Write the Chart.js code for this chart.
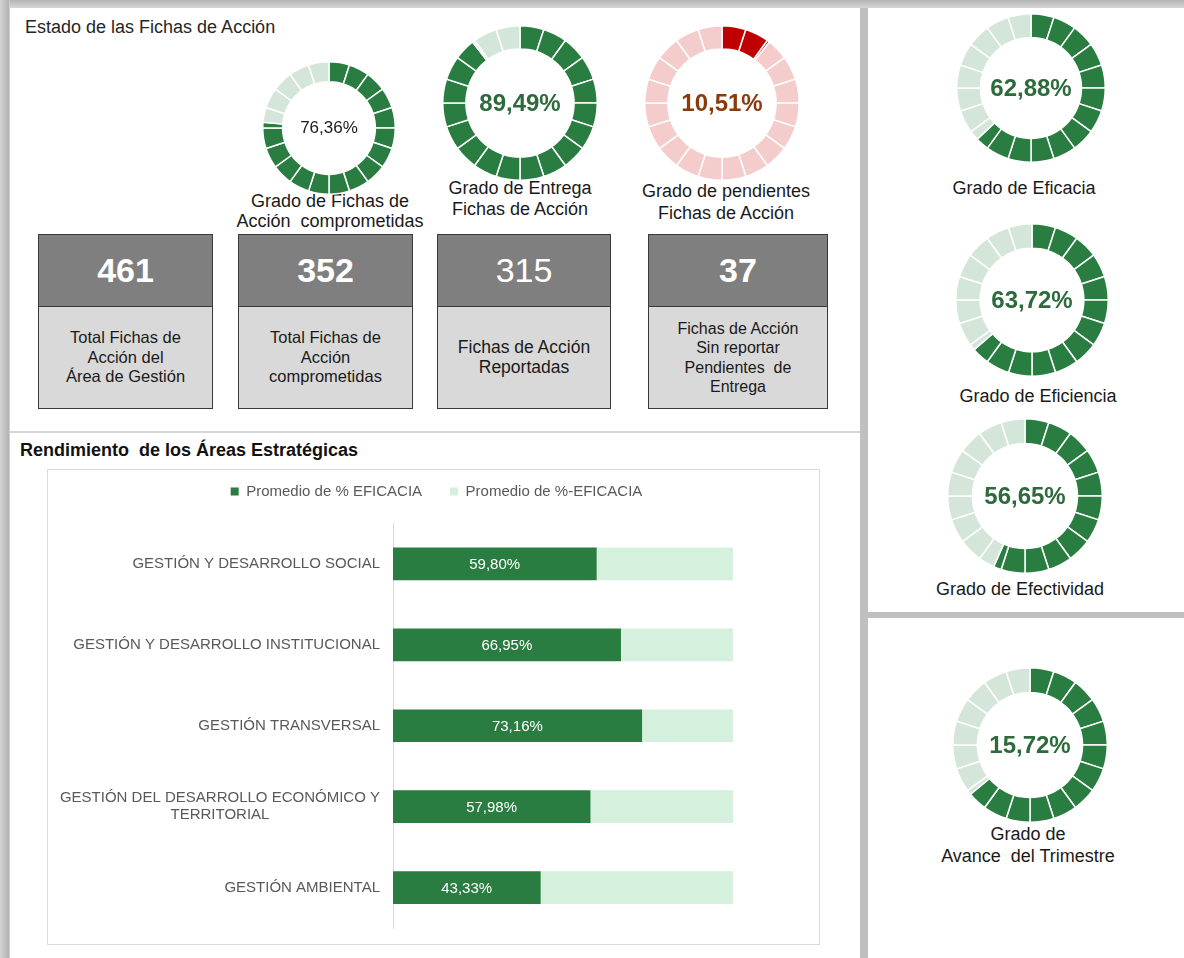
<!DOCTYPE html>
<html lang="es">
<head>
<meta charset="UTF-8">
<title>Estado de las Fichas de Acción</title>
<script src="https://cdn.jsdelivr.net/npm/chart.js"></script>
<style>
  body { margin: 0; width: 1184px; height: 958px; position: relative; overflow: hidden; background: #fff; font-family: 'Liberation Sans', Arial, sans-serif; color: #1a1a1a; }
  .abs { position: absolute; }
  .franja-sup { left: 0; top: 0; width: 1184px; height: 8px; background: linear-gradient(#b4b4b4, #d6d6d6); }
  .franja-izq { left: 0; top: 0; width: 10px; height: 958px; background: linear-gradient(90deg, #d4d4d4, #b2b2b2 85%, #e0e0e0); }
  .div-v { left: 860px; top: 8px; width: 8px; height: 950px; background: #c0c0c0; }
  .div-h { left: 860px; top: 612px; width: 324px; height: 6px; background: #c0c0c0; }
  .linea { left: 10px; top: 431px; width: 850px; height: 2px; background: #d6d6d6; }
  .titulo { left: 25px; top: 17px; font-size: 18px; color: #262626; }
  .titulo2 { left: 20px; top: 440px; font-size: 18px; font-weight: bold; color: #111; white-space: pre; }
  .kpi { position: absolute; top: 234px; height: 175px; border: 1.5px solid #3a3a3a; box-sizing: border-box; background: #d9d9d9; }
  .kpi .num { height: 71px; background: #7f7f7f; color: #fff; font-size: 34px; font-weight: bold; display: flex; align-items: center; justify-content: center; border-bottom: 1.5px solid #3a3a3a; }
  .kpi .txt { height: 101px; display: flex; align-items: center; justify-content: center; text-align: center; font-size: 16.5px; line-height: 19.5px; white-space: pre; }
  .centro { position: absolute; transform: translate(-50%, -50%); white-space: nowrap; }
  .cap { position: absolute; width: 280px; text-align: center; font-size: 18px; line-height: 21px; white-space: pre; color: #1a1a1a; }
  .caja { left: 47px; top: 469px; width: 773px; height: 476px; border: 1px solid #d9d9d9; box-sizing: border-box; }
</style>
</head>
<body>
<div class="abs franja-sup"></div>
<div class="abs franja-izq"></div>
<div class="abs div-v"></div>
<div class="abs div-h"></div>
<div class="abs linea"></div>

<div class="abs titulo">Estado de las Fichas de Acción</div>
<div class="abs titulo2">Rendimiento  de los Áreas Estratégicas</div>

<div id="kpis"></div>

<div class="cap" style="left:190px;top:191px;line-height:20px;">Grado de Fichas de
Acción  comprometidas</div>
<div class="cap" style="left:380px;top:178px;">Grado de Entrega
Fichas de Acción</div>
<div class="cap" style="left:586px;top:180px;line-height:22px;">Grado de pendientes
Fichas de Acción</div>
<div class="cap" style="left:884px;top:178px;">Grado de Eficacia</div>
<div class="cap" style="left:898px;top:386px;">Grado de Eficiencia</div>
<div class="cap" style="left:880px;top:579px;">Grado de Efectividad</div>
<div class="cap" style="left:888px;top:823px;line-height:22px;">Grado de
Avance  del Trimestre</div>

<div id="anillos"></div>

<div class="abs caja"></div>
<canvas id="barras" class="abs" width="771" height="488" style="left:48px;top:456px;"></canvas>

<script>
  // datos
  const totales = [461, 352, 315, 37];
  const totalesTexto = ['Total Fichas de\nAcción del\nÁrea de Gestión', 'Total Fichas de\nAcción\ncomprometidas', 'Fichas de Acción\nReportadas', 'Fichas de Acción\nSin reportar\nPendientes  de\nEntrega'];
  const porcentajes = [76.36, 89.49, 10.51, 62.88, 63.72, 56.65, 15.72];
  const relleno = [76.36, 89.49, 10.51, 62.88, 63.72, 56.65, 64]; // parte coloreada del anillo tal como se ve
  const areas = [['GESTIÓN Y DESARROLLO SOCIAL'], ['GESTIÓN Y DESARROLLO INSTITUCIONAL'], ['GESTIÓN TRANSVERSAL'], ['GESTIÓN DEL DESARROLLO ECONÓMICO Y', 'TERRITORIAL'], ['GESTIÓN AMBIENTAL']];
  const eficacia = [59.80, 66.95, 73.16, 57.98, 43.33];
  const restante = [40.20, 33.05, 26.84, 42.02, 56.67];

  const FUENTE = "'Liberation Sans', Arial, sans-serif";
  const VERDE = '#2a7d40', VERDE_CLARO = '#d4e6d9';
  const fmt = v => v.toFixed(2).replace('.', ',') + '%';

  // cajas de totales
  const cajas = [{ x: 38, w: 175 }, { x: 238, w: 175 }, { x: 437, w: 174 }, { x: 648, w: 180 }];
  let html = '';
  totales.forEach((t, i) => {
    const peso = i === 2 ? 'normal' : 'bold';
    const fs = i === 2 ? 17.5 : (i === 3 ? 16 : 16.5);
    html += '<div class="kpi" style="left:' + cajas[i].x + 'px;width:' + cajas[i].w + 'px;">' +
      '<div class="num" style="font-weight:' + peso + '">' + t + '</div>' +
      '<div class="txt" style="font-size:' + fs + 'px">' + totalesTexto[i] + '</div></div>';
  });
  document.getElementById('kpis').innerHTML = html;

  // anillos segmentados (20 tramos de 5%)
  const anillos = [
    { cx: 329, cy: 128, r: 66, corte: '70%', on: VERDE, off: VERDE_CLARO, fs: 17, peso: 'normal', color: '#1a1a1a' },
    { cx: 520, cy: 103, r: 77, corte: '70%', on: VERDE, off: VERDE_CLARO, fs: 24, peso: 'bold', color: '#2d6a3c' },
    { cx: 722, cy: 103, r: 77, corte: '70%', on: '#c00000', off: '#f4cccc', fs: 24, peso: 'bold', color: '#8b3a0c' },
    { cx: 1031, cy: 88, r: 74, corte: '68%', on: VERDE, off: VERDE_CLARO, fs: 24, peso: 'bold', color: '#2d6a3c' },
    { cx: 1032, cy: 300, r: 76, corte: '68%', on: VERDE, off: VERDE_CLARO, fs: 24, peso: 'bold', color: '#2d6a3c' },
    { cx: 1025, cy: 496, r: 77, corte: '68%', on: VERDE, off: VERDE_CLARO, fs: 24, peso: 'bold', color: '#2d6a3c' },
    { cx: 1030, cy: 745, r: 77, corte: '68%', on: VERDE, off: VERDE_CLARO, fs: 24, peso: 'bold', color: '#2d6a3c' }
  ];

  function tramos(valor, on, off) {
    const d = [], c = [];
    for (let i = 0; i < 20; i++) {
      const ini = i * 5, fin = ini + 5;
      if (valor >= fin) { d.push(5); c.push(on); }
      else if (valor <= ini) { d.push(5); c.push(off); }
      else { d.push(valor - ini, fin - valor); c.push(on, off); }
    }
    return { d, c };
  }

  const cont = document.getElementById('anillos');
  anillos.forEach((a, i) => {
    const lado = a.r * 2 + 2;
    const cv = document.createElement('canvas');
    cv.width = lado; cv.height = lado;
    cv.className = 'abs';
    cv.style.left = (a.cx - a.r - 1) + 'px';
    cv.style.top = (a.cy - a.r - 1) + 'px';
    cont.appendChild(cv);
    const t = document.createElement('div');
    t.className = 'centro';
    t.style.left = a.cx + 'px'; t.style.top = a.cy + 'px';
    t.style.fontSize = a.fs + 'px'; t.style.fontWeight = a.peso; t.style.color = a.color;
    t.textContent = fmt(porcentajes[i]);
    cont.appendChild(t);
    const s = tramos(relleno[i], a.on, a.off);
    new Chart(cv, {
      type: 'doughnut',
      data: { datasets: [{ data: s.d, backgroundColor: s.c, borderColor: '#fff', borderWidth: 1.5 }] },
      options: {
        responsive: false, animation: false, events: [], cutout: a.corte,
        plugins: { legend: { display: false }, tooltip: { enabled: false } }
      }
    });
  });

  // barras
  const margenLeyenda = {
    id: 'margenLeyenda',
    afterInit(chart) {
      if (!chart.legend) return;
      const fit = chart.legend.fit;
      chart.legend.fit = function () { fit.call(this); this.height += 14.5; };
    }
  };
  const etiquetasEje = {
    id: 'etiquetasEje',
    afterDraw(chart) {
      const y = chart.scales.y, ctx = chart.ctx;
      ctx.save();
      ctx.font = '15px ' + FUENTE;
      ctx.fillStyle = '#595959';
      ctx.textAlign = 'center';
      ctx.textBaseline = 'middle';
      areas.forEach((lineas, i) => {
        const w = Math.max(...lineas.map(l => ctx.measureText(l).width));
        const cx = y.right - 13 - w / 2;
        const cy = y.getPixelForValue(i);
        lineas.forEach((l, k) => ctx.fillText(l, cx, cy + (k - (lineas.length - 1) / 2) * 17));
      });
      ctx.restore();
    }
  };
  const etiquetasValor = {
    id: 'etiquetasValor',
    afterDatasetsDraw(chart) {
      const ctx = chart.ctx;
      ctx.save();
      ctx.font = '15px ' + FUENTE;
      ctx.fillStyle = '#ffffff';
      ctx.textAlign = 'center';
      ctx.textBaseline = 'middle';
      chart.getDatasetMeta(0).data.forEach((bar, i) => {
        ctx.fillText(fmt(eficacia[i]), (bar.x + bar.base) / 2, bar.y + 1);
      });
      ctx.restore();
    }
  };

  new Chart(document.getElementById('barras'), {
    type: 'bar',
    data: {
      labels: areas.map(a => a.join(' ')),
      datasets: [
        { label: 'Promedio de % EFICACIA', data: eficacia, backgroundColor: VERDE, borderWidth: 0, barThickness: 32 },
        { label: 'Promedio de %-EFICACIA', data: restante, backgroundColor: '#d5f0dc', borderWidth: 0, barThickness: 32 }
      ]
    },
    options: {
      indexAxis: 'y', responsive: false, animation: false, events: [],
      layout: { padding: { left: 92, right: 86, top: 0, bottom: 16 } },
      scales: {
        x: { stacked: true, min: 0, max: 100, display: false },
        y: {
          stacked: true,
          grid: { display: false },
          border: { display: true, color: '#d9d9d9' },
          ticks: { display: false },
          afterFit(s) { s.width = 253; }
        }
      },
      plugins: {
        legend: {
          position: 'top',
          labels: { boxWidth: 8, boxHeight: 8, padding: 28, color: '#595959', font: { size: 15, family: FUENTE } }
        },
        tooltip: { enabled: false }
      }
    },
    plugins: [margenLeyenda, etiquetasEje, etiquetasValor]
  });
</script>
</body>
</html>
